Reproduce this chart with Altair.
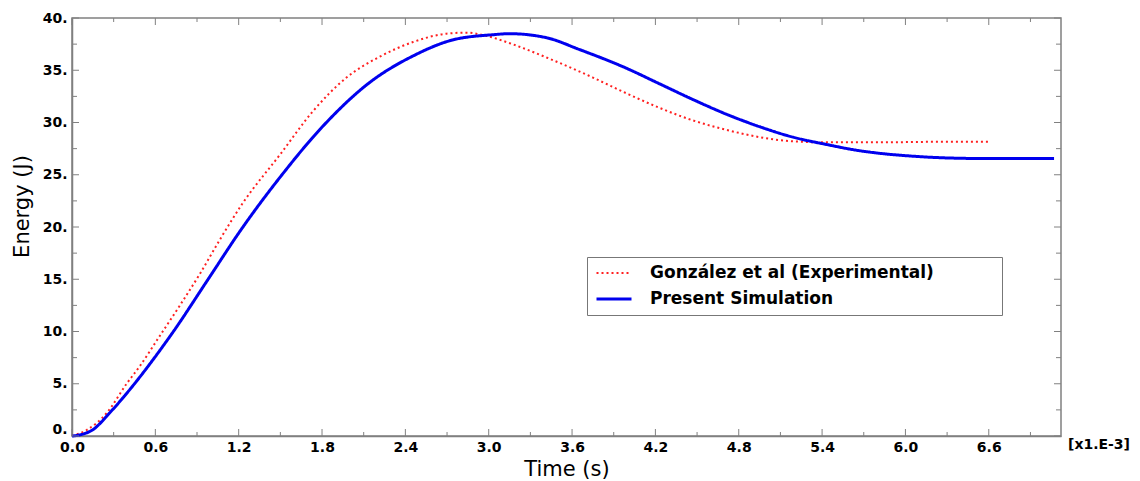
import altair as alt
import pandas as pd

# ---- data (time in ms, energy in J) ----
exp_t = [0.0, 0.105, 0.25, 0.393, 0.489, 0.633, 0.777, 0.92, 1.065, 1.23, 1.496, 1.736,
         1.976, 2.216, 2.455, 2.695, 2.84, 2.98, 3.17, 3.42, 3.65, 3.75, 3.99, 4.23,
         4.47, 4.71, 4.95, 5.19, 5.43, 5.81, 6.2, 6.6]
exp_e = [0.0, 0.57, 2.2, 5.0, 6.7, 9.6, 12.5, 15.5, 18.8, 22.3, 26.9, 31.1,
         34.3, 36.3, 37.7, 38.5, 38.6, 38.3, 37.5, 36.2, 34.9, 34.3, 32.8, 31.4,
         30.2, 29.3, 28.6, 28.2, 28.1, 28.1, 28.15, 28.15]

sim_t = [0.0, 0.07, 0.15, 0.27, 0.45, 0.6, 0.73, 0.98, 1.22, 1.5, 1.81, 2.14, 2.46,
         2.74, 3.03, 3.15, 3.42, 3.65, 3.99, 4.23, 4.47, 4.71, 4.95, 5.19, 5.43,
         5.67, 5.85, 6.03, 6.32, 6.6, 7.07]
sim_e = [0.0, 0.15, 0.6, 2.2, 5.0, 7.6, 10.0, 15.0, 19.8, 24.8, 29.7, 33.8, 36.4,
         37.9, 38.4, 38.5, 38.1, 37.0, 35.2, 33.7, 32.2, 30.8, 29.6, 28.6, 27.9,
         27.3, 27.0, 26.8, 26.6, 26.55, 26.55]

EXP = "González et al (Experimental)"
SIM = "Present Simulation"
series_names = [EXP, SIM]
series_colors = ["#ff2020", "#0000ee"]

x_label_values = [0.0, 0.6, 1.2, 1.8, 2.4, 3.0, 3.6, 4.2, 4.8, 5.4, 6.0, 6.6]
x_minor_values = [0.3, 0.9, 1.5, 2.1, 2.7, 3.3, 3.9, 4.5, 5.1, 5.7, 6.3, 6.9]
y_label_values = [0, 5, 10, 15, 20, 25, 30, 35, 40]
y_minor_values = [2.5, 7.5, 12.5, 17.5, 22.5, 27.5, 32.5, 37.5]

W, H = 989, 418
GRAY = "#808080"
FONT = "DejaVu Sans"

df = pd.concat([
    pd.DataFrame({"t": exp_t, "E": exp_e, "series": EXP}),
    pd.DataFrame({"t": sim_t, "E": sim_e, "series": SIM}),
], ignore_index=True)

xs = alt.Scale(domain=[0, 7.12], nice=False, zero=False)
ys = alt.Scale(domain=[0, 40], nice=False)

x_axis = alt.Axis(values=x_label_values, format=".1f", title="Time (s)", labelFlush=False,
                  labelPadding=4, titleY=22, titleBaseline="top")
y_axis = alt.Axis(values=y_label_values, labelExpr="datum.value + '.'", title="Energy (J)",
                  labelPadding=5, titleX=-40, titleY=188,
                  labelBaseline={"condition": {"test": "datum.value == 0", "value": "bottom"},
                                 "value": "middle"})

pad = "\u00a0" * 10 + "\u200b"
legend = alt.Legend(
    title=None, orient="none", legendX=515, legendY=239,
    symbolType="stroke", symbolSize=1225, symbolStrokeWidth=2.5,
    clipHeight=16, rowPadding=9, padding=8, labelOffset=17,
    strokeColor="#777777", fillColor="white",
    labelFont=FONT, labelFontSize=17, labelFontWeight="bold", labelColor="black",
    labelLimit=600,
    labelExpr="datum.label + '" + pad + "'",
)

lines = alt.Chart(df).mark_line(interpolate="monotone").encode(
    x=alt.X("t:Q", scale=xs, axis=x_axis),
    y=alt.Y("E:Q", scale=ys, axis=y_axis),
    color=alt.Color("series:N", scale=alt.Scale(domain=series_names, range=series_colors), legend=legend),
    strokeDash=alt.StrokeDash("series:N", scale=alt.Scale(domain=series_names, range=[[2, 3], [1, 0]]), legend=legend),
    strokeWidth=alt.StrokeWidth("series:N", scale=alt.Scale(domain=series_names, range=[2, 3]), legend=None),
)

def xticks(vals, length):
    d = pd.DataFrame({"t": vals})
    bottom = alt.Chart(d).mark_rule(color=GRAY, strokeWidth=1).encode(
        x=alt.X("t:Q", scale=xs, axis=x_axis), y=alt.value(H), y2=alt.value(H - length))
    top = alt.Chart(d).mark_rule(color=GRAY, strokeWidth=1).encode(
        x=alt.X("t:Q", scale=xs, axis=x_axis), y=alt.value(0), y2=alt.value(length))
    return [bottom, top]

def yticks(vals, length):
    d = pd.DataFrame({"E": vals})
    left = alt.Chart(d).mark_rule(color=GRAY, strokeWidth=1).encode(
        y=alt.Y("E:Q", scale=ys, axis=y_axis), x=alt.value(0), x2=alt.value(length))
    right = alt.Chart(d).mark_rule(color=GRAY, strokeWidth=1).encode(
        y=alt.Y("E:Q", scale=ys, axis=y_axis), x=alt.value(W), x2=alt.value(W - length))
    return [left, right]

unit_note = alt.Chart(pd.DataFrame({"note": ["[x1.E-3]"]})).mark_text(
    align="left", baseline="middle", font=FONT, fontSize=14, fontWeight="bold", color="black"
).encode(text="note:N", x=alt.value(W + 7), y=alt.value(H + 9))

layers = [lines] + xticks(x_label_values, 7) + xticks(x_minor_values, 4) + \
    yticks(y_label_values, 7) + yticks(y_minor_values, 5) + [unit_note]

chart = alt.layer(*layers).properties(
    width=W, height=H,
    autosize=alt.AutoSizeParams(type="none"),
    padding={"left": 72, "top": 18, "right": 79, "bottom": 45},
    background="white",
).configure_view(
    stroke=GRAY, strokeWidth=1.5
).configure_axis(
    domainColor=GRAY, domainWidth=1.5, ticks=False, grid=False,
    labelFont=FONT, labelFontSize=14, labelFontWeight="bold", labelColor="black",
    titleFont=FONT, titleFontSize=21, titleFontWeight="normal", titleColor="black",
)

chart.save("out.html", embed_options={"renderer": "svg", "actions": False})
